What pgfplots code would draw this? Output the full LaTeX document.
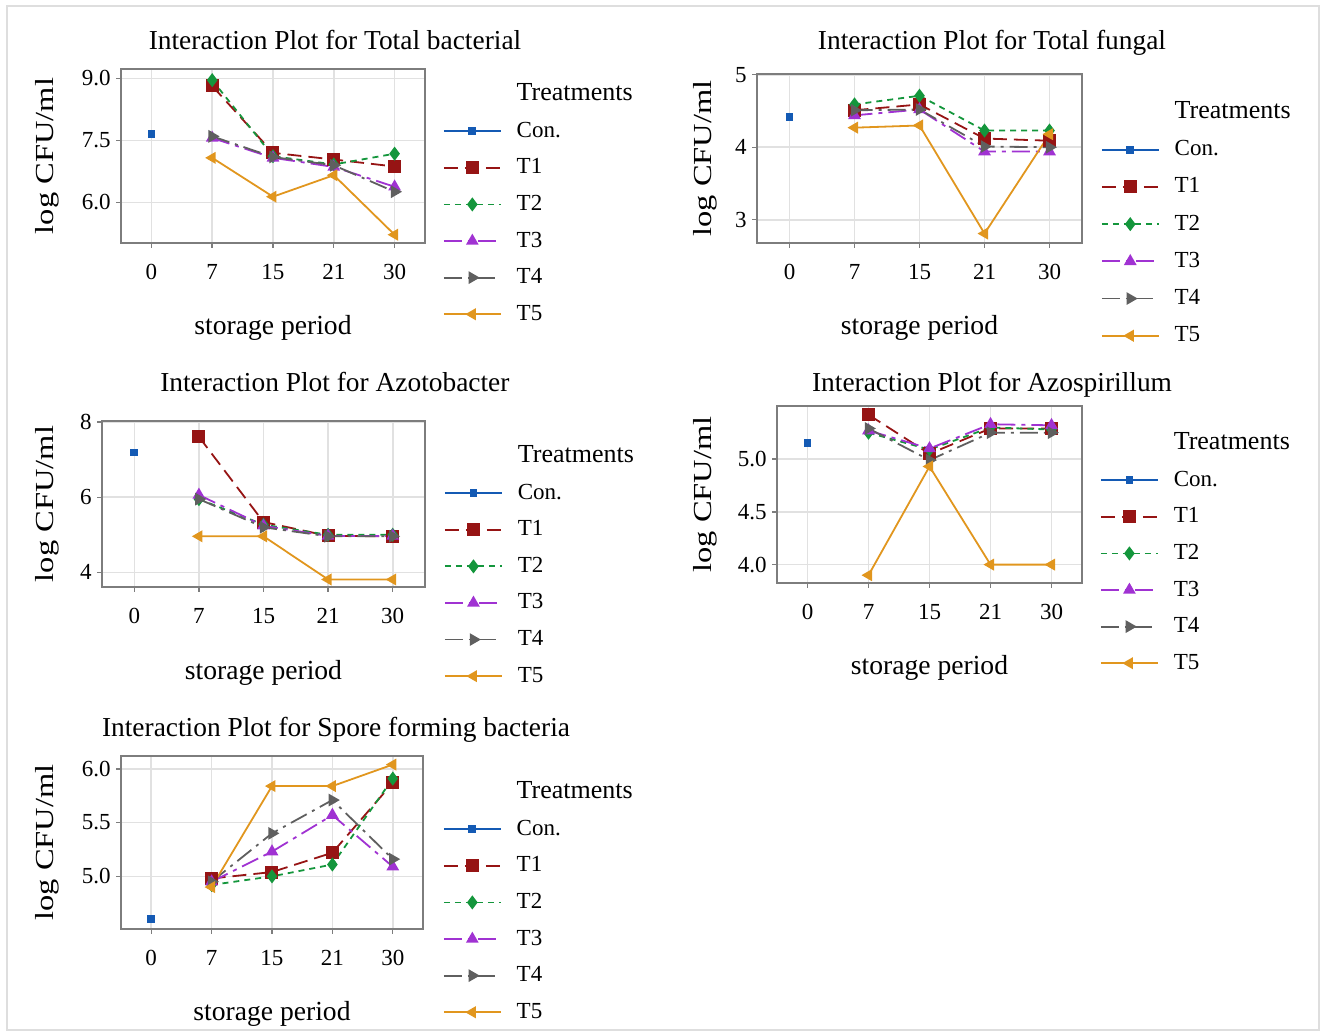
\documentclass[border=0pt]{standalone}
\usepackage{fontspec}
\setmainfont{Liberation Serif}
\newfontfamily\ylabfont{Liberation Serif}[FakeStretch=1.25]
\usepackage{pgfplots}
\usepackage{pgfplotstable}
\pgfplotsset{compat=1.18}

\definecolor{ccon}{RGB}{20,90,180}
\definecolor{ct1}{RGB}{150,20,20}
\definecolor{ct2}{RGB}{20,150,60}
\definecolor{ct3}{RGB}{160,50,210}
\definecolor{ct4}{RGB}{95,95,95}
\definecolor{ct5}{RGB}{225,150,30}
\definecolor{axgray}{RGB}{125,125,125}
\definecolor{gridgray}{RGB}{225,225,225}
\definecolor{framegray}{RGB}{222,222,222}

% data: x index 1..4 = storage period 7,15,21,30
\pgfplotstableread{
x t1 t2 t3 t4 t5
1 8.82 8.96 7.56 7.60 7.08
2 7.20 7.12 7.08 7.10 6.14
3 7.04 6.92 6.86 6.90 6.66
4 6.87 7.18 6.38 6.26 5.22
}\bact
\pgfplotstableread{
x t1 t2 t3 t4 t5
1 4.51 4.59 4.44 4.51 4.27
2 4.59 4.71 4.52 4.52 4.30
3 4.12 4.23 3.94 4.01 2.81
4 4.09 4.23 3.94 4.00 4.18
}\fung
\pgfplotstableread{
x t1 t2 t3 t4 t5
1 7.61 5.95 6.06 5.95 4.96
2 5.34 5.27 5.24 5.20 4.96
3 4.97 5.00 4.97 4.96 3.81
4 4.96 5.00 4.97 4.96 3.81
}\azoto
\pgfplotstableread{
x t1 t2 t3 t4 t5
1 5.42 5.25 5.27 5.29 3.90
2 5.05 5.09 5.10 4.99 4.93
3 5.29 5.30 5.33 5.25 4.00
4 5.29 5.28 5.32 5.25 4.00
}\azosp
\pgfplotstableread{
x t1 t2 t3 t4 t5
1 4.98 4.92 4.95 4.95 4.90
2 5.04 5.00 5.23 5.40 5.84
3 5.22 5.11 5.57 5.71 5.84
4 5.87 5.91 5.09 5.16 6.04
}\spore

\pgfplotsset{
  pcon/.style={color=ccon, line width=0.9pt, solid, mark=square*, mark size=1.5pt},
  pt1/.style={color=ct1, line width=0.9pt, dash pattern=on 7pt off 3.5pt, mark=square*, mark size=2.8pt, mark options={solid}},
  pt2/.style={color=ct2, line width=0.9pt, dash pattern=on 3pt off 2.5pt, mark=diamond*, mark size=2.8pt, mark options={solid}},
  pt3/.style={color=ct3, line width=0.9pt, dash pattern=on 9pt off 3pt on 2pt off 3pt, mark=triangle*, mark size=2.8pt, mark options={solid}},
  pt4/.style={color=ct4, line width=0.9pt, dash pattern=on 9pt off 3pt on 1.5pt off 3pt, mark=triangle*, mark size=2.8pt, mark options={solid, rotate=-90}},
  pt5/.style={color=ct5, line width=0.9pt, solid, mark=triangle*, mark size=2.6pt, mark options={solid, rotate=90}},
  ipanel/.style={
    scale only axis,
    xmin=-0.5, xmax=4.5,
    xtick={0,1,2,3,4}, xticklabels={0,7,15,21,30},
    xtick pos=left, ytick pos=left,
    axis line style={draw=axgray, line width=1pt},
    grid=major, major grid style={draw=gridgray, line width=0.8pt},
    tick style={draw=axgray, line width=0.7pt},
    tick align=outside, major tick length=2.5pt,
    /pgf/number format/assume math mode=true,
    tick label style={font=\fontsize{11.5}{12}\selectfont},
    xticklabel style={inner sep=0pt, anchor=north, yshift=-8pt},
    yticklabel style={inner sep=0pt, anchor=east, xshift=-2.5pt},
    title style={font=\fontsize{13.7}{14}\selectfont, anchor=base, inner sep=0pt},
    xlabel={storage period},
    xlabel style={font=\fontsize{13.8}{14}\selectfont, at={(axis description cs:0.5,0)}, anchor=base, inner sep=0pt},
    ylabel={\ylabfont log CFU/ml},
    ylabel style={font=\fontsize{13}{14}\selectfont, anchor=center, inner sep=0pt},
    legend cell align=left,
    legend style={draw=none, fill=none, inner sep=0pt, outer sep=0pt, anchor=north west,
      font=\fontsize{11.5}{12}\selectfont,
      nodes={inner sep=0pt, text height=8pt, text depth=2pt},
      row sep=8.3pt,
      /tikz/every even column/.append style={column sep=0pt},
      /tikz/every odd column/.append style={column sep=7.5pt}},
    legend image code/.code={\draw[mark repeat=2,mark phase=2] plot coordinates {(0pt,0pt)(14.25pt,0pt)(28.5pt,0pt)};},
  }
}

\newcommand{\treatplots}[2]{%
  \addlegendimage{empty legend}
  \addlegendentry{\fontsize{13}{13}\selectfont Treatments}
  \addplot[pcon] coordinates {(0,#2)};
  \addlegendentry{Con.}
  \addplot[pt1] table[x=x,y=t1] {#1};
  \addlegendentry{T1}
  \addplot[pt2] table[x=x,y=t2] {#1};
  \addlegendentry{T2}
  \addplot[pt3] table[x=x,y=t3] {#1};
  \addlegendentry{T3}
  \addplot[pt4] table[x=x,y=t4] {#1};
  \addlegendentry{T4}
  \addplot[pt5] table[x=x,y=t5] {#1};
  \addlegendentry{T5}
}

\begin{document}
\begin{tikzpicture}
\useasboundingbox (0pt,0pt) rectangle (662.5pt,515.5pt);
\draw[framegray, line width=1pt] (3.65pt,0.3pt) rectangle (659.35pt,512.5pt);

% Panel 1: Total bacterial
\begin{axis}[ipanel, at={(60.5pt,394pt)}, anchor=south west, width=152pt, height=87pt,
  ymin=5.02, ymax=9.23, ytick={6,7.5,9},
  yticklabel style={/pgf/number format/.cd, fixed, fixed zerofill, precision=1},
  title={Interaction Plot for Total bacterial},
  title style={at={(axis description cs:0.704,1)}, yshift=3.5pt},
  xlabel style={yshift=-46pt},
  ylabel style={at={(axis description cs:-0.243,0.5)}},
  legend style={at={(axis description cs:1.059,0.910)}}]
\treatplots{\bact}{7.65}
\end{axis}

% Panel 2: Total fungal
\begin{axis}[ipanel, at={(378.5pt,394pt)}, anchor=south west, width=162.5pt, height=84.5pt,
  ymin=2.68, ymax=5.01, ytick={3,4,5},
  title={Interaction Plot for Total fungal},
  title style={at={(axis description cs:0.723,1)}, yshift=6pt},
  xlabel style={yshift=-46pt},
  ylabel style={at={(axis description cs:-0.16,0.5)}},
  legend style={at={(axis description cs:1.058,0.831)}, row sep=8.6pt}]
\treatplots{\fung}{4.42}
\end{axis}

% Panel 3: Azotobacter
\begin{axis}[ipanel, at={(51pt,222pt)}, anchor=south west, width=161.5pt, height=83pt,
  ymin=3.61, ymax=8.03, ytick={4,6,8},
  title={Interaction Plot for Azotobacter},
  title style={at={(axis description cs:0.721,1)}, yshift=8.5pt},
  xlabel style={yshift=-46.5pt},
  ylabel style={at={(axis description cs:-0.170,0.5)}},
  legend style={at={(axis description cs:1.059,0.846)}}]
\treatplots{\azoto}{7.19}
\end{axis}

% Panel 4: Azospirillum
\begin{axis}[ipanel, at={(388.5pt,224pt)}, anchor=south west, width=152.5pt, height=88.5pt,
  ymin=3.826, ymax=5.503, ytick={4,4.5,5},
  yticklabel style={/pgf/number format/.cd, fixed, fixed zerofill, precision=1},
  title={Interaction Plot for Azospirillum},
  title style={at={(axis description cs:0.705,1)}, yshift=1pt},
  xlabel style={yshift=-46pt},
  ylabel style={at={(axis description cs:-0.236,0.5)}},
  legend style={at={(axis description cs:1.059,0.844)}}]
\treatplots{\azosp}{5.15}
\end{axis}

% Panel 5: Spore forming bacteria
\begin{axis}[ipanel, at={(60.5pt,51pt)}, anchor=south west, width=151pt, height=86.5pt,
  ymin=4.51, ymax=6.12, ytick={5,5.5,6},
  yticklabel style={/pgf/number format/.cd, fixed, fixed zerofill, precision=1},
  title={Interaction Plot for Spore forming bacteria},
  title style={at={(axis description cs:0.712,1)}, yshift=3.5pt},
  xlabel style={yshift=-45.5pt},
  ylabel style={at={(axis description cs:-0.245,0.5)}},
  legend style={at={(axis description cs:1.066,0.846)}}]
\treatplots{\spore}{4.60}
\end{axis}
\end{tikzpicture}
\end{document}
